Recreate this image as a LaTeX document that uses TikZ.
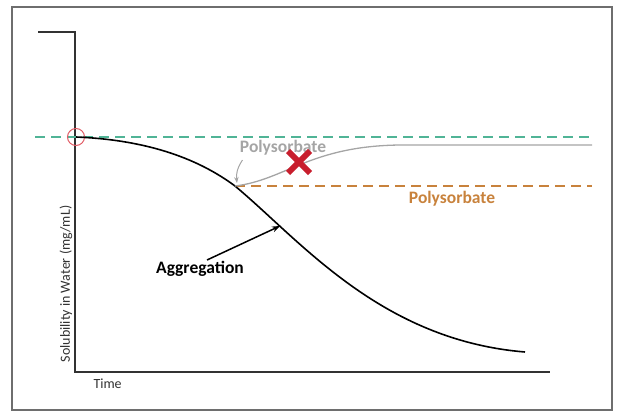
\documentclass[tikz,border=0pt]{standalone}
\usepackage{fontspec}
\setmainfont{Carlito}
\usetikzlibrary{arrows.meta}
\definecolor{frame}{RGB}{110,110,110}
\definecolor{axis}{RGB}{50,50,50}
\definecolor{limitgreen}{RGB}{80,180,150}
\definecolor{psorange}{RGB}{200,130,60}
\definecolor{psgray}{RGB}{165,165,165}
\definecolor{crossred}{RGB}{200,30,45}
\definecolor{ringred}{RGB}{225,90,100}
\begin{document}
\begin{tikzpicture}[x=1pt,y=-1pt,
  axisline/.style={line width=2pt,axis},
  limit/.style={line width=1.8pt,dash pattern=on 10pt off 6pt},
  curvelabel/.style={font=\bfseries\fontsize{17.5}{17.5}\selectfont},
  axislabel/.style={font=\fontsize{14}{14}\selectfont,axis}]
%\draw[step=20,gray,very thin] (0,0) grid (618,415); %background grid
\useasboundingbox (0,0) rectangle (618,415);

\draw[line width=1.5pt,frame] (12,7) rectangle (612,410);

% axes
\coordinate (ytop) at (38,32);
\coordinate (ycorner) at (75,32);
\coordinate (origin) at (75,372);
\coordinate (xend) at (550,372);
\draw[axisline] (ytop)--(ycorner)--(origin)--(xend);

\node[axislabel,anchor=west] (time) at (90,384) {Time};
\node[axislabel,rotate=90] (ylab) at (66,284) {Solubility in Water (mg/mL)};

% limit lines
\coordinate (gleft) at (35,137);
\coordinate (gright) at (592,137);
\draw[limit,limitgreen] (gleft)--(gright);

\coordinate (pstart) at (235,186);
\coordinate (oright) at (592,186);
\draw[limit,psorange] (pstart)--(oright);

% start of the curve
\coordinate (start) at (76,137);
\node[draw=ringred,line width=1pt,circle,minimum size=17pt,inner sep=0pt] (ring) at (start) {};

% aggregation curve
\coordinate (aggtip) at (280,226);
\coordinate (cend) at (525,352);
\draw[line width=1.6pt] (start) .. controls (150,140) and (200,160) .. (pstart)
  .. controls (300,240) and (380,340) .. (cend);

% polysorbate curve
\coordinate (gend) at (592,145);
\draw[line width=1.3pt,psgray] (pstart) .. controls (285,180) and (310,146) .. (400,145) -- (gend);

\node[curvelabel,psgray] (psgraylab) at (283,148) {Polysorbate};
\draw[line width=1pt,psgray,-{Stealth[length=6pt]}] (psgraylab.south west)+(6,1) to[bend right=20] ([shift={(2,-3)}]pstart);

\node[curvelabel,psorange] (psorangelab) at (452,199) {Polysorbate};

% cross
\draw[line width=6pt,crossred] (288,151)--(310,173);
\draw[line width=6pt,crossred] (288,173)--(310,151);

% aggregation arrow
\node[curvelabel] (agg) at (200,269) {Aggregation};
\draw[line width=1.5pt,-{Stealth[length=8pt]}] (207,260)--(aggtip);

\end{tikzpicture}
\end{document}
